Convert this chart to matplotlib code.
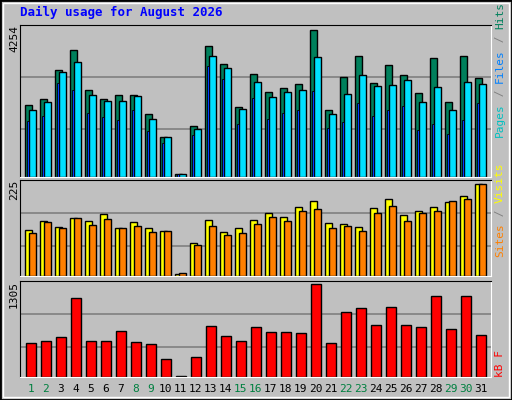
import matplotlib
matplotlib.use('Agg')
import matplotlib.pyplot as plt
from matplotlib.patches import Rectangle
import numpy as np

days = np.arange(1, 32)
weekend_days = [1, 2, 8, 9, 15, 16, 22, 23, 29, 30]
hits = [2080, 2249, 3088, 3676, 2500, 2249, 2360, 2360, 1829, 1157, 93, 1465, 3788, 3256, 2025, 2976,
        2444, 2556, 2696, 4254, 1941, 2892, 3508, 2724, 3228, 2948, 2416, 3424, 2164, 3480, 2864]
files = [1941, 2164, 3032, 3312, 2360, 2192, 2192, 2332, 1689, 1157, 93, 1381, 3508, 3144, 1969, 2752,
         2304, 2444, 2500, 3452, 1829, 2388, 2948, 2640, 2668, 2808, 2164, 2612, 1941, 2752, 2696]
pages = [1605, 1773, 2724, 2500, 1857, 1745, 1633, 1941, 1325, 989, 93, 1213, 3200, 2836, 1521, 2276,
         1661, 1857, 1941, 2472, 1409, 1577, 2136, 1773, 1941, 2053, 1353, 1521, 1241, 1633, 2136]
sites = [112, 134, 120, 142, 134, 152, 117, 132, 117, 110, 5, 81, 137, 108, 117, 137,
         154, 144, 169, 183, 130, 127, 120, 166, 188, 149, 159, 169, 181, 196, 225]
visits = [105, 132, 117, 142, 125, 139, 117, 122, 108, 110, 7, 76, 122, 100, 105, 127,
          144, 134, 159, 164, 117, 122, 110, 154, 171, 134, 154, 159, 183, 188, 225]
kbytes = [476, 505, 562, 1119, 505, 505, 647, 490, 462, 248, 19, 276, 719, 576, 505, 704,
          633, 633, 619, 1305, 476, 919, 976, 733, 990, 733, 704, 1147, 676, 1147, 590]

bg = '#C0C0C0'
fig = plt.figure(figsize=(5.12, 4.0), dpi=100, facecolor=bg)
# bevelled border
fig.patches.append(Rectangle((0, 0), 1, 1, transform=fig.transFigure, fill=False, ec='black', lw=2))
fig.patches.append(Rectangle((3/512, 3/400), 1-6/512, 1-6/400, transform=fig.transFigure,
                             fill=False, ec='white', lw=1))

def panel(rect, ymax):
    ax = fig.add_axes(rect, facecolor=bg)
    ax.set_xlim(0.28, 31.68)
    ax.set_ylim(0, ymax)
    ax.set_xticks([]); ax.set_yticks([])
    for s in ['top', 'left']:
        ax.spines[s].set_color('black')
    for s in ['bottom', 'right']:
        ax.spines[s].set_color('white')
    for f in (0.315, 0.66):
        ax.plot([0, 1], [f, f], transform=ax.transAxes, color='#808080', lw=1.2, zorder=0)
    return ax

L, W = 20/512, 471/512
ax1 = panel([L, 0.5575, W, 0.38], 4389)
ax1.bar(days - 0.135, hits, width=0.47, color='#00805C', ec='black', lw=1)
ax1.bar(days + 0.135, files, width=0.47, color='#00E0FF', ec='black', lw=1)
ax1.bar(days - 0.19, pages, width=0.17, color='#0040FF', ec='black', lw=0.6)

ax2 = panel([L, 0.31, W, 0.24], 235)
ax2.bar(days - 0.135, sites, width=0.47, color='#FFFF00', ec='black', lw=1)
ax2.bar(days + 0.135, visits, width=0.47, color='#FF8000', ec='black', lw=1)

ax3 = panel([L, 0.0575, W, 0.24], 1353)
ax3.bar(days + 0.03, kbytes, width=0.66, color='#FF0000', ec='black', lw=1)

mono = 'DejaVu Sans Mono'
fig.text(20/512, 1 - 12/400, 'Daily usage for August 2026', color='#0000FF', family=mono,
         weight='bold', fontsize=9, va='center', ha='left')
for y, lab in [(25, '4254'), (180, '225'), (281, '1305')]:
    fig.text(14/512, 1 - y/400, lab, rotation=90, family=mono, fontsize=8, va='top', ha='center')

# right side legends
def vlabel(y_px, parts):
    y = 1 - y_px/400
    for txt, col in parts:
        t = fig.text(500/512, y, txt, rotation=90, family=mono, fontsize=8, color=col,
                     va='bottom', ha='center')
        fig.canvas.draw()
        bb = t.get_window_extent()
        y += bb.height / (400)

vlabel(137, [('Pages', '#00C0C0'), (' / ', '#808080'), ('Files', '#0080FF'),
             (' / ', '#808080'), ('Hits', '#00805C')])
vlabel(257, [('Sites', '#FF8000'), (' / ', '#808080'), ('Visits', '#FFFF00')])
vlabel(377, [('kB F', '#FF0000')])

for d in days:
    x = L + W * (d - 0.28) / (31.68 - 0.28)
    fig.text(x, 1 - 389/400, str(d), ha='center', va='center', fontsize=8, family=mono,
             color='#008040' if d in weekend_days else 'black')

fig.savefig('out.png', dpi=100, facecolor=bg)
